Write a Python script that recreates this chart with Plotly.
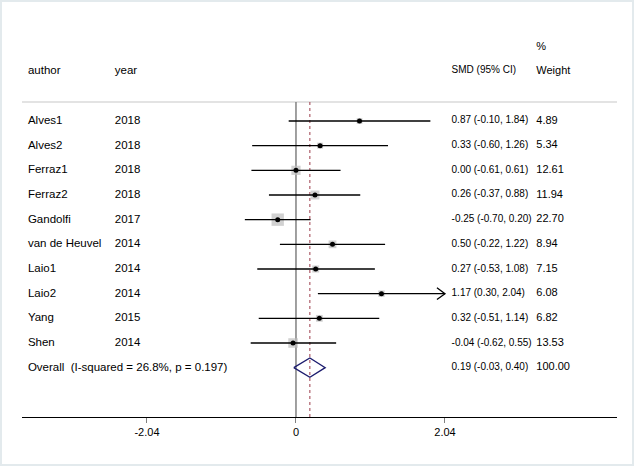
import plotly.graph_objects as go

AUTHORS = ["Alves1", "Alves2", "Ferraz1", "Ferraz2", "Gandolfi", "van de Heuvel",
           "Laio1", "Laio2", "Yang", "Shen"]
YEARS = [2018, 2018, 2018, 2018, 2017, 2014, 2014, 2014, 2015, 2014]
SMD = [0.87, 0.33, 0.00, 0.26, -0.25, 0.50, 0.27, 1.17, 0.32, -0.04]
CI_LO = [-0.10, -0.60, -0.61, -0.37, -0.70, -0.22, -0.53, 0.30, -0.51, -0.62]
CI_HI = [1.84, 1.26, 0.61, 0.88, 0.20, 1.22, 1.08, 2.04, 1.14, 0.55]
WEIGHTS = [4.89, 5.34, 12.61, 11.94, 22.70, 8.94, 7.15, 6.08, 6.82, 13.53]

OVERALL = 0.19
OVERALL_LO = -0.03
OVERALL_HI = 0.40
OVERALL_LABEL = "Overall  (I-squared = 26.8%, p = 0.197)"

XTICKS = [-2.04, 0, 2.04]
XMAX = 2.04  # CIs past this get an arrow

FONT = "Liberation Sans, Arial, sans-serif"

rows = list(range(1, len(AUTHORS) + 1))
overall_row = len(AUTHORS) + 1
top_rule = 0.23
bottom = 13.0
header_row = -1.03

# column positions (data units of the effect axis)
col_author = -3.67
col_year = -2.48
col_smd = 2.13
col_weight = 3.29

fig = go.Figure()

# top rule
fig.add_trace(go.Scatter(x=[-3.751, 4.395], y=[top_rule, top_rule], mode="lines",
                         line=dict(color="#c8c8c8", width=1.2), hoverinfo="skip"))

# null line and overall line
fig.add_trace(go.Scatter(x=[0, 0], y=[top_rule, bottom], mode="lines",
                         line=dict(color="#808080", width=1.5), hoverinfo="skip"))
fig.add_trace(go.Scatter(x=[OVERALL, OVERALL], y=[top_rule, bottom], mode="lines",
                         line=dict(color="#9b3b4a", width=1, dash="3px,3px"), hoverinfo="skip"))

# weight boxes
fig.add_trace(go.Scatter(x=SMD, y=rows, mode="markers",
                         marker=dict(symbol="square", color="#bdbdbd",
                                     size=[2.6 * w ** 0.5 for w in WEIGHTS], line=dict(width=0)),
                         hoverinfo="skip"))

# confidence intervals
for r, lo, hi in zip(rows, CI_LO, CI_HI):
    end = min(hi, XMAX)
    fig.add_trace(go.Scatter(x=[lo, end], y=[r, r], mode="lines",
                             line=dict(color="black", width=1.3), hoverinfo="skip"))
    if hi >= XMAX:
        fig.add_trace(go.Scatter(x=[end - 0.11, end, end - 0.11], y=[r - 0.24, r, r + 0.24],
                                 mode="lines", line=dict(color="black", width=1.3),
                                 hoverinfo="skip"))

# point estimates
fig.add_trace(go.Scatter(x=SMD, y=rows, mode="markers",
                         marker=dict(symbol="circle", color="black", size=5),
                         hoverinfo="skip"))

# overall diamond
h = 0.39
fig.add_trace(go.Scatter(x=[OVERALL_LO, OVERALL, OVERALL_HI, OVERALL, OVERALL_LO],
                         y=[overall_row, overall_row - h, overall_row, overall_row + h, overall_row],
                         mode="lines", line=dict(color="#1c1c6e", width=1.3), hoverinfo="skip"))


# text columns
def text_col(x, ys, labels, size=11.5):
    fig.add_trace(go.Scatter(x=[x] * len(ys), y=ys, mode="text", text=labels,
                             textposition="middle right",
                             textfont=dict(family=FONT, size=size, color="black"),
                             hoverinfo="skip"))


text_col(col_author, [header_row] + rows + [overall_row], ["author"] + AUTHORS + [OVERALL_LABEL])
text_col(col_year, [header_row] + rows, ["year"] + [str(y) for y in YEARS])
smd_labels = ["%.2f (%.2f, %.2f)" % (e, lo, hi) for e, lo, hi in zip(SMD, CI_LO, CI_HI)]
smd_labels.append("%.2f (%.2f, %.2f)" % (OVERALL, OVERALL_LO, OVERALL_HI))
text_col(col_smd, [header_row] + rows + [overall_row], ["SMD (95% CI)"] + smd_labels, size=10)
text_col(col_weight, [-2.0, header_row] + rows + [overall_row],
         ["%", "Weight"] + ["%.2f" % w for w in WEIGHTS] + ["100.00"], size=11)

fig.update_layout(
    width=634, height=466,
    margin=dict(l=22, r=17, t=0, b=49),
    showlegend=False,
    plot_bgcolor="white", paper_bgcolor="white",
    font=dict(family=FONT, size=11, color="black"),
    xaxis=dict(range=[-3.751, 4.395], showgrid=False, zeroline=False,
               showline=True, linecolor="black", linewidth=1.2,
               tickmode="array", tickvals=XTICKS, ticktext=["-2.04", "0", "2.04"],
               ticks="outside", ticklen=5, tickcolor="#808080", tickwidth=1.2,
               tickfont=dict(size=11)),
    yaxis=dict(range=[bottom, -3.905], showgrid=False, zeroline=False,
               showline=False, showticklabels=False),
)
# light frame round the whole page
fig.add_shape(type="rect", xref="x domain", yref="y domain",
              x0=-21 / 595, x1=1 + 16 / 595, y0=-48 / 417, y1=1 - 1 / 417,
              line=dict(color="#e3eaed", width=2))

fig.write_html("out.html", config={"displayModeBar": False},
               post_script="document.body.style.margin='0';")
